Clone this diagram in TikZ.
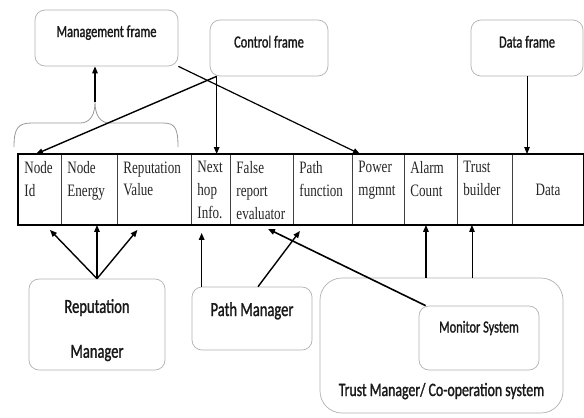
\documentclass[tikz,border=0pt]{standalone}
\usepackage{fontspec}
\newfontfamily\labfont[FakeStretch=0.73,FakeBold=1.3]{Carlito}
\newfontfamily\cellfont[FakeStretch=0.75]{Liberation Serif}
\usetikzlibrary{arrows.meta}
\usetikzlibrary{calc}

\begin{document}
\begin{tikzpicture}[x=1bp,y=-1bp,
    box/.style={draw=black!30, line width=0.7bp, rounded corners=10bp, text=black!90,
      font=\labfont\fontsize{17}{20}\selectfont},
    cell/.style={draw=black!75, line width=0.9bp, minimum height=70bp, inner sep=0pt,
      anchor=north west, text=black!85, font=\cellfont\fontsize{17.5}{23}\selectfont},
    celltext/.style={cell, draw=none, align=left, minimum height=0pt},
    arr/.style={-{Triangle[length=7bp,width=5.5bp]}, line width=1.4bp},
    thinarr/.style={arr, line width=0.9bp}]
    \fill[white] (0,0) rectangle (584,417);
    \useasboundingbox (0,0) rectangle (584,417);
    % Les cadres du haut
    \node[box, minimum width=143bp, minimum height=56bp, text height=12bp, text depth=14bp]
      (mgmt) at (106.5,38) {Management frame};
    \node[box, minimum width=118bp, minimum height=56bp, text height=12bp, text depth=13bp]
      (ctrl) at (269,48) {Control frame};
    \node[box, minimum width=112bp, minimum height=56bp, text height=12bp, text depth=13bp]
      (dframe) at (527,48) {Data frame};
    % Le paquet
    \foreach \x/\w/\n/\t in {18/43/id/{Node\\Id}, 61/56/en/{Node\\Energy},
        117/74/rv/{Reputation\\Value}, 191/39/hop/{Next\\hop\\Info.},
        230/63/fre/{False\\report\\evaluator}, 293/59/pf/{Path\\function},
        352/52/pow/{Power\\mgmnt}, 404/53/al/{Alarm\\Count}, 457/55/tb/{Trust\\builder}}
    {
      \node[cell, minimum width=\w bp] (\n) at (\x,154) {};
      \node[celltext] (\n-t) at (\x+6,161) {\t};
    }
    \node[cell, minimum width=71bp] (data) at (512,154) {Data};
    \draw[line width=1.3bp] (id.north west) rectangle (data.south east);
    % Accolade
    \coordinate (tip) at (95,102);
    \draw[black!40, line width=0.8bp] (14,147) .. controls (14,128) and (18,123) .. (32,123)
      -- (80,123) .. controls (90,123) and (95,115) .. (tip)
      .. controls (95,115) and (100,123) .. (110,123) -- (163,123)
      .. controls (175,123) and (178,128) .. (178,147);
    % Les gestionnaires du bas
    \node[box, minimum width=136bp, minimum height=91bp, align=center,
      font=\labfont\fontsize{20}{45}\selectfont] (repm) at (97,324.5)
      {\rule{0pt}{25bp}Reputation\\Manager};
    \node[box, minimum width=120bp, minimum height=63bp, text height=14bp, text depth=19bp,
      font=\labfont\fontsize{20}{24}\selectfont] (pm) at (252,318.5) {Path Manager};
    \node[box, minimum width=243bp, minimum height=135bp, rounded corners=22bp,
      text height=105bp, text depth=4bp, font=\labfont\fontsize{19}{22}\selectfont]
      (trust) at (441.5,345.5) {Trust Manager/ Co-operation system};
    \node[box, minimum width=120bp, minimum height=64bp, text height=12bp, text depth=23bp]
      (mon) at (479,338) {Monitor System};
    % Fleches du haut
    \coordinate (cf) at ([xshift=7bp]ctrl.south west);
    \draw[arr] (tip) -- (tip |- mgmt.south);
    \draw[arr] (cf) -- ([xshift=-4bp]id.north);
    \draw[arr] (cf) -- (cf |- hop.north);
    \draw[arr, line width=1.2bp] (mgmt.south east) -- ([xshift=8bp]pow.north west);
    \draw[thinarr] (dframe.south) -- (dframe.south |- data.north);
    % Fleches du bas
    \draw[arr] (repm.north) -- ([xshift=10bp,yshift=-5bp]id.south);
    \draw[arr] (repm.north) -- (repm.north |- en.south);
    \draw[arr] (repm.north) -- ([xshift=-17bp,yshift=-5bp]rv.south);
    \draw[arr] ([xshift=10bp]pm.north west) -- ($([xshift=10bp]pm.north west |- hop.south)+(0,8)$);
    \draw[arr] ([xshift=6bp]pm.north) -- ([xshift=7bp,yshift=-6bp]pf.south west);
    \draw[arr, line width=1.6bp] ([xshift=7bp]mon.north west) -- ([xshift=6bp,yshift=-4bp]fre.south);
    \draw[arr] ($(al.south |- trust.north)+(-5,0)$) -- ($(al.south)+(-5,0)$);
    \draw[thinarr] ($(tb.south |- trust.north)+(-13,0)$) -- ($(tb.south)+(-13,0)$);
\end{tikzpicture}
\end{document}
